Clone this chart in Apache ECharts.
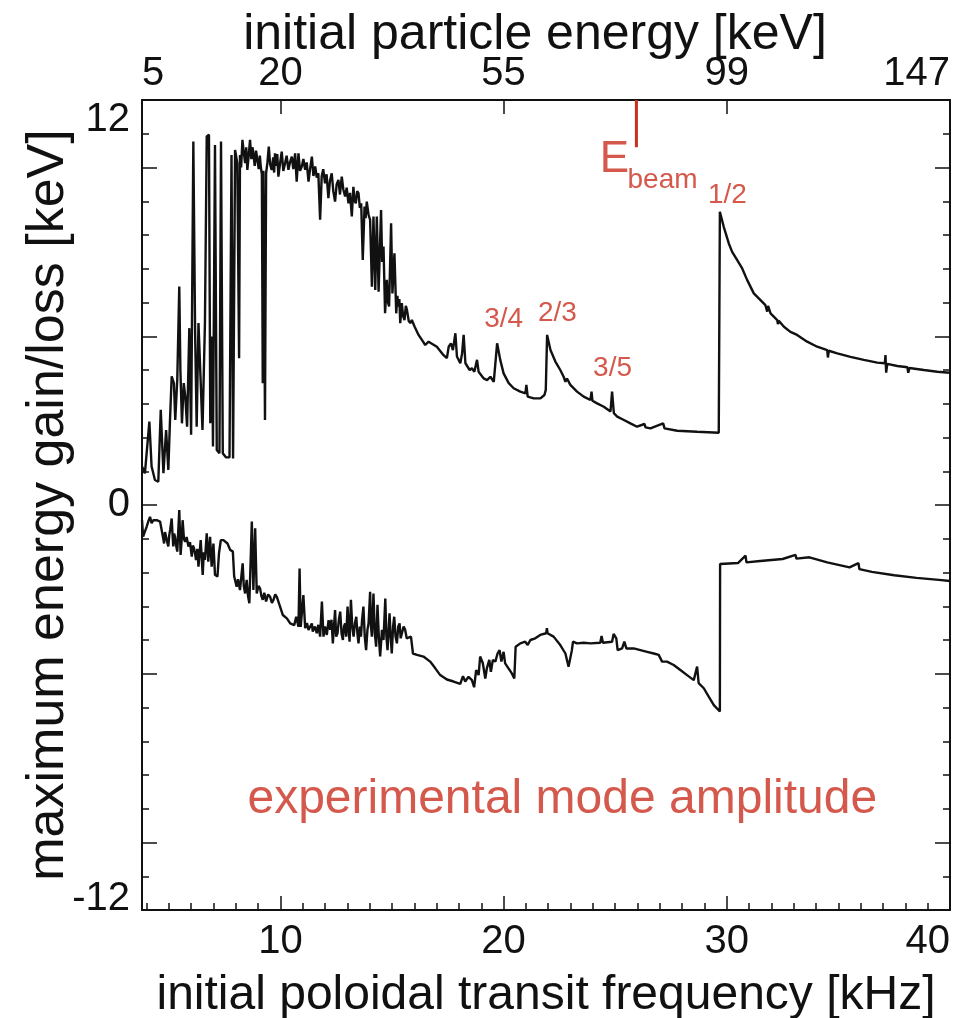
<!DOCTYPE html>
<html>
<head>
<meta charset="utf-8">
<title>maximum energy gain/loss</title>
<script src="https://cdn.jsdelivr.net/npm/echarts@6/dist/echarts.min.js"></script>
<style>
  html, body { margin: 0; padding: 0; background: #fff; }
  #chart { width: 968px; height: 1018px; }
</style>
</head>
<body>
<div id="chart"></div>
<script>
// upper curve: maximum energy gain, [frequency kHz, keV]
const gainCurve = [
  [3.80, 1.14], [3.93, 0.94], [4.13, 2.47], [4.23, 1.14], [4.38, 0.74], [4.53, 0.69], [4.64, 2.82], [4.76, 0.94], [4.88, 2.22], [4.98, 1.04],
  [5.06, 2.62], [5.13, 3.81], [5.23, 3.61], [5.29, 2.52], [5.38, 3.71], [5.47, 6.47], [5.52, 4.00], [5.59, 2.42], [5.67, 3.61], [5.74, 3.21],
  [5.82, 2.32], [5.92, 5.24], [6.00, 2.08], [6.10, 10.77], [6.18, 5.09], [6.25, 2.32], [6.33, 5.39], [6.42, 3.81], [6.51, 2.22], [6.62, 5.39],
  [6.70, 10.92], [6.80, 10.97], [6.86, 2.42], [6.94, 4.99], [6.98, 1.73], [7.07, 10.67], [7.15, 1.63], [7.27, 1.53], [7.34, 10.77], [7.42, 1.53],
  [7.57, 1.41], [7.72, 1.41], [7.81, 10.37], [7.88, 1.38], [7.97, 10.52], [8.07, 10.13], [8.15, 4.35], [8.19, 10.37], [8.24, 10.00], [8.30, 10.82],
  [8.36, 10.45], [8.42, 10.13], [8.47, 10.60], [8.52, 9.93], [8.58, 10.35], [8.64, 10.82], [8.70, 10.25], [8.75, 10.60], [8.79, 10.42], [8.85, 10.05],
  [8.91, 10.50], [8.97, 10.22], [9.03, 9.95], [9.08, 10.35], [9.12, 10.03], [9.17, 9.80], [9.21, 3.61], [9.24, 9.90], [9.27, 9.93], [9.31, 2.52],
  [9.36, 9.83], [9.42, 10.15], [9.48, 10.62], [9.54, 10.10], [9.61, 9.93], [9.68, 10.30], [9.72, 9.85], [9.76, 10.42], [9.82, 10.05], [9.86, 10.40],
  [9.91, 9.73], [9.98, 10.10], [10.06, 10.47], [10.13, 9.90], [10.21, 10.13], [10.28, 10.35], [10.36, 9.93], [10.43, 10.15], [10.51, 10.32], [10.58, 9.95],
  [10.66, 10.42], [10.73, 9.58], [10.81, 10.42], [10.88, 9.90], [10.96, 10.03], [11.03, 10.25], [11.11, 9.93], [11.18, 10.15], [11.26, 9.58], [11.33, 9.95],
  [11.41, 10.32], [11.48, 9.75], [11.56, 10.03], [11.63, 9.70], [11.70, 9.83], [11.78, 8.45], [11.85, 9.73], [11.92, 9.95], [12.00, 9.53], [12.07, 9.80],
  [12.15, 9.09], [12.22, 9.60], [12.30, 9.83], [12.37, 9.30], [12.45, 8.99], [12.52, 9.50], [12.60, 9.63], [12.67, 9.20], [12.75, 9.73], [12.82, 9.35],
  [12.90, 9.14], [12.97, 9.40], [13.05, 8.94], [13.12, 9.25], [13.20, 8.55], [13.27, 9.43], [13.33, 9.00], [13.38, 8.94], [13.44, 9.30], [13.50, 9.24],
  [13.56, 8.80], [13.62, 8.94], [13.69, 7.26], [13.77, 8.84], [13.82, 8.50], [13.87, 8.99], [13.95, 8.60], [14.02, 8.45], [14.10, 6.47], [14.17, 8.55],
  [14.25, 6.37], [14.32, 8.55], [14.40, 6.32], [14.51, 8.74], [14.56, 7.20], [14.62, 7.66], [14.69, 5.68], [14.77, 6.67], [14.82, 6.00], [14.87, 5.88],
  [14.96, 8.35], [15.02, 6.27], [15.06, 6.80], [15.11, 7.46], [15.19, 5.68], [15.24, 6.20], [15.29, 5.88], [15.33, 6.10], [15.37, 5.39], [15.44, 5.98],
  [15.50, 5.60], [15.56, 5.48], [15.62, 5.90], [15.67, 5.78], [15.75, 5.45], [15.82, 5.39], [15.89, 5.48], [16.01, 5.29], [16.19, 5.04], [16.34, 4.89],
  [16.49, 4.74], [16.64, 4.84], [16.72, 4.89], [17.01, 4.69], [17.31, 4.44], [17.46, 4.35], [17.54, 4.69], [17.64, 4.79], [17.73, 4.59], [17.84, 5.09],
  [17.91, 4.40], [18.06, 4.20], [18.14, 4.49], [18.21, 5.04], [18.29, 4.20], [18.36, 4.25], [18.48, 4.00], [18.58, 4.05], [18.69, 3.95], [18.81, 4.30],
  [18.88, 3.95], [18.96, 3.90], [19.11, 3.75], [19.26, 3.70], [19.41, 3.80], [19.56, 3.65], [19.63, 3.70], [19.71, 4.79], [19.85, 4.30], [20.00, 3.90],
  [20.23, 3.61], [20.45, 3.46], [20.75, 3.36], [20.98, 3.31], [21.02, 3.56], [21.08, 3.21], [21.35, 3.16], [21.65, 3.16], [21.83, 3.26], [21.89, 3.41],
  [21.95, 5.04], [22.10, 4.59], [22.32, 4.25], [22.54, 4.00], [22.69, 3.80], [22.77, 3.65], [22.84, 3.75], [22.99, 3.56], [23.29, 3.36], [23.59, 3.21],
  [23.89, 3.11], [23.94, 3.36], [23.98, 3.09], [24.19, 3.01], [24.49, 2.91], [24.79, 2.77], [24.86, 3.36], [24.94, 2.72], [25.09, 2.62], [25.39, 2.52],
  [25.68, 2.42], [25.98, 2.32], [26.31, 2.40], [26.36, 2.30], [26.58, 2.27], [27.15, 2.42], [27.21, 2.27], [27.78, 2.20], [28.67, 2.17], [29.64, 2.14],
  [29.69, 8.69], [29.86, 8.25], [30.09, 7.75], [30.24, 7.50], [30.46, 7.26], [30.69, 7.01], [30.91, 6.67], [31.21, 6.27], [31.51, 6.07], [31.73, 5.92],
  [31.81, 5.73], [31.85, 5.90], [31.96, 5.68], [32.26, 5.48], [32.29, 5.36], [32.33, 5.46], [32.56, 5.28], [32.85, 5.13], [33.15, 5.04], [33.60, 4.84],
  [34.05, 4.69], [34.50, 4.59], [34.53, 4.37], [34.57, 4.57], [34.95, 4.49], [35.54, 4.39], [36.14, 4.30], [36.74, 4.22], [37.08, 4.20], [37.11, 4.44],
  [37.14, 3.92], [37.19, 4.18], [37.64, 4.12], [38.09, 4.08], [38.13, 3.92], [38.18, 4.06], [38.83, 4.00], [39.43, 3.95], [40.00, 3.92]
];

// lower curve: maximum energy loss, [frequency kHz, keV]
const lossCurve = [
  [3.80, -0.45], [3.85, -0.94], [3.93, -0.99], [4.01, -0.64], [4.08, -0.49], [4.16, -0.35], [4.23, -0.54], [4.31, -0.45], [4.46, -0.45], [4.61, -0.49],
  [4.68, -0.74], [4.74, -0.95], [4.79, -1.14], [4.83, -0.80], [4.88, -0.94], [4.93, -1.10], [4.98, -1.23], [5.02, -0.90], [5.06, -0.74], [5.13, -0.40],
  [5.17, -0.90], [5.20, -1.23], [5.24, -0.85], [5.28, -0.94], [5.33, -1.20], [5.38, -1.38], [5.47, -0.15], [5.53, -1.48], [5.58, -1.00], [5.62, -0.45],
  [5.68, -1.00], [5.73, -1.09], [5.80, -0.95], [5.88, -1.23], [5.95, -1.10], [6.03, -1.53], [6.08, -1.20], [6.13, -1.28], [6.18, -1.45], [6.22, -1.63],
  [6.28, -1.30], [6.33, -1.83], [6.43, -1.04], [6.52, -2.07], [6.57, -1.40], [6.62, -1.63], [6.70, -0.84], [6.77, -1.68], [6.85, -0.94], [6.92, -1.83],
  [7.00, -1.14], [7.07, -2.07], [7.18, -2.12], [7.25, -1.43], [7.33, -1.04], [7.45, -1.04], [7.63, -1.14], [7.75, -1.33], [7.87, -1.38], [7.93, -2.12],
  [8.04, -2.42], [8.10, -2.20], [8.19, -2.52], [8.31, -1.73], [8.36, -2.40], [8.42, -2.62], [8.49, -2.22], [8.55, -2.70], [8.61, -2.91], [8.72, -0.49],
  [8.79, -2.52], [8.87, -0.69], [8.94, -2.62], [9.02, -2.40], [9.09, -2.47], [9.15, -2.70], [9.21, -2.81], [9.28, -2.60], [9.36, -2.86], [9.45, -2.65],
  [9.54, -2.72], [9.62, -2.90], [9.69, -2.81], [9.77, -2.65], [9.84, -2.72], [9.96, -2.96], [10.11, -3.26], [10.29, -3.36], [10.44, -3.51], [10.62, -3.56],
  [10.71, -3.31], [10.81, -3.61], [10.86, -1.88], [10.91, -3.61], [11.03, -2.67], [11.11, -3.65], [11.19, -3.50], [11.26, -3.70], [11.41, -3.51], [11.45, -3.75],
  [11.55, -3.60], [11.63, -3.80], [11.70, -3.55], [11.78, -3.90], [11.86, -2.86], [11.93, -3.90], [12.00, -3.60], [12.08, -3.85], [12.16, -3.41], [12.23, -3.70],
  [12.29, -3.40], [12.35, -4.10], [12.45, -3.11], [12.50, -3.90], [12.56, -3.80], [12.62, -3.40], [12.68, -3.16], [12.74, -3.80], [12.80, -4.00], [12.85, -3.60],
  [12.90, -3.51], [12.95, -3.90], [13.01, -3.01], [13.06, -3.70], [13.10, -4.05], [13.16, -2.81], [13.22, -3.60], [13.28, -3.90], [13.34, -3.50], [13.40, -3.31],
  [13.45, -3.80], [13.50, -4.10], [13.56, -3.60], [13.61, -3.90], [13.66, -3.40], [13.72, -3.01], [13.78, -3.90], [13.84, -4.30], [13.90, -3.70], [13.95, -3.51],
  [14.02, -2.57], [14.06, -3.60], [14.10, -3.90], [14.17, -2.62], [14.23, -3.80], [14.29, -4.20], [14.35, -2.96], [14.41, -3.90], [14.47, -4.49], [14.55, -3.70],
  [14.62, -4.00], [14.70, -2.77], [14.75, -3.90], [14.80, -4.30], [14.89, -3.21], [14.94, -3.90], [14.99, -4.40], [15.05, -3.60], [15.10, -3.31], [15.16, -3.90],
  [15.22, -4.10], [15.28, -3.60], [15.34, -3.51], [15.39, -3.95], [15.44, -3.90], [15.52, -3.60], [15.59, -3.70], [15.66, -3.95], [15.74, -3.90], [15.85, -3.90],
  [15.94, -4.40], [16.12, -4.44], [16.41, -4.49], [16.71, -4.64], [16.94, -4.84], [17.16, -5.04], [17.46, -5.17], [17.76, -5.23], [18.06, -5.30], [18.18, -5.07],
  [18.28, -5.23], [18.43, -5.09], [18.58, -5.19], [18.68, -5.40], [18.77, -4.89], [18.88, -5.04], [18.95, -4.49], [19.07, -4.69], [19.18, -5.14], [19.25, -4.84],
  [19.36, -4.59], [19.43, -4.94], [19.52, -4.59], [19.63, -4.64], [19.73, -4.40], [19.82, -4.30], [19.90, -4.64], [20.00, -4.35], [20.07, -4.69], [20.22, -4.84],
  [20.37, -4.99], [20.48, -5.14], [20.54, -4.20], [20.75, -4.10], [20.97, -4.05], [21.08, -4.15], [21.20, -4.00], [21.42, -3.95], [21.64, -3.85], [21.91, -3.80],
  [21.94, -3.65], [21.97, -3.80], [22.24, -3.90], [22.54, -4.15], [22.77, -4.40], [22.91, -4.79], [23.06, -4.30], [23.11, -4.05], [23.29, -4.10], [23.59, -4.08],
  [23.89, -4.10], [24.33, -4.08], [24.39, -3.88], [24.45, -4.08], [24.86, -4.05], [24.93, -3.82], [25.05, -3.95], [25.11, -4.30], [25.31, -4.25], [25.41, -4.05],
  [25.50, -4.25], [25.83, -4.25], [26.13, -4.30], [26.43, -4.35], [26.73, -4.40], [26.95, -4.44], [27.10, -4.64], [27.32, -4.64], [27.62, -4.74], [27.92, -4.89],
  [28.22, -5.04], [28.52, -5.19], [28.67, -4.79], [28.74, -5.28], [28.97, -5.43], [29.19, -5.68], [29.42, -5.93], [29.69, -6.12], [29.70, -1.75], [30.50, -1.72],
  [30.84, -1.50], [30.88, -1.70], [31.50, -1.66], [32.50, -1.60], [33.08, -1.48], [33.12, -1.59], [33.70, -1.55], [34.50, -1.70], [35.50, -1.85], [35.90, -1.72],
  [35.94, -1.90], [36.50, -1.98], [37.50, -2.08], [38.50, -2.16], [39.50, -2.22], [40.00, -2.25]
];

// axis ticks and labels
const freqMajorTicks = [10, 20, 30, 40];
const freqMinorTicks = [4, 5, 6, 7, 8, 9, 11, 12, 13, 14, 15, 16, 17, 18, 19, 21, 22, 23, 24, 25, 26, 27, 28, 29, 31, 32, 33, 34, 35, 36, 37, 38, 39];
const energyTickFreq = [3.8, 10, 20, 30, 40];
const energyTickLabels = ['5', '20', '55', '99', '147'];
const keVMajorTicks = [-10, -5, 0, 5, 10];
const keVMinorTicks = [-11, -9, -8, -7, -6, -4, -3, -2, -1, 1, 2, 3, 4, 6, 7, 8, 9, 11];
const keVLabelsUpper = [0, 12];
const keVLabelsLower = [-12];

// annotations
const beamFreq = 25.95;
const beamMarkTop = 12;
const beamMarkBottom = 10.6;
const resonanceText = ['3/4', '2/3', '3/5', '1/2'];
const resonanceFreq = [20.0, 22.41, 24.88, 30.03];
const resonanceKeV = [5.51, 5.69, 4.06, 9.19];

const RED = '#c9301f';
const INK = '#111';
const FONT = '"Liberation Sans", Arial, Helvetica, sans-serif';

const chart = echarts.init(document.getElementById('chart'));

// bare value axis, only the parts switched on in extra are drawn
const tickAxis = (extra) => Object.assign({
  type: 'value',
  splitLine: { show: false },
  axisLine: { show: false, onZero: false },
  axisLabel: { show: false },
  axisTick: { show: false }
}, extra);

const frameLine = { show: true, onZero: false, lineStyle: { color: INK, width: 2 } };

chart.setOption({
  animation: false,
  textStyle: { fontFamily: FONT },
  grid: { left: 142, right: 18, top: 100, bottom: 108, outerBoundsMode: 'none', containLabel: false },
  xAxis: [
    tickAxis({
      position: 'bottom', min: 3.8, max: 40,
      axisLine: frameLine,
      axisTick: { show: true, inside: true, length: 14, customValues: freqMajorTicks, lineStyle: { color: INK, width: 1.5 } },
      axisLabel: { show: true, customValues: freqMajorTicks, fontSize: 40, color: INK, margin: 12, fontFamily: FONT, alignMaxLabel: 'right' },
      name: 'initial poloidal transit frequency [kHz]',
      nameLocation: 'middle', nameGap: 62,
      nameTextStyle: { fontSize: 48, color: INK, fontFamily: FONT }
    }),
    tickAxis({
      position: 'bottom', min: 3.8, max: 40,
      axisTick: { show: true, inside: true, length: 7, customValues: freqMinorTicks, lineStyle: { color: INK, width: 1.5 } }
    }),
    tickAxis({
      position: 'top', min: 3.8, max: 40,
      axisLine: frameLine,
      axisTick: { show: true, inside: true, length: 14, customValues: [10, 20, 30], lineStyle: { color: INK, width: 1.5 } },
      axisLabel: {
        show: true, customValues: energyTickFreq, fontSize: 40, color: INK, margin: 6, fontFamily: FONT,
        alignMinLabel: 'left', alignMaxLabel: 'right',
        formatter: (v) => energyTickLabels[energyTickFreq.indexOf(v)] || ''
      },
      name: 'initial particle energy [keV]',
      nameLocation: 'middle', nameGap: 40, nameMoveOverlap: false,
      nameTextStyle: { fontSize: 50, color: INK, fontFamily: FONT, padding: [0, 22, 0, 0] }
    })
  ],
  yAxis: [
    tickAxis({
      position: 'left', min: -12, max: 12,
      axisLine: frameLine,
      axisTick: { show: true, inside: true, length: 15, customValues: keVMajorTicks, lineStyle: { color: INK, width: 1.5 } },
      axisLabel: {
        show: true, customValues: keVLabelsUpper, fontSize: 40, color: INK, margin: 12, fontFamily: FONT,
        verticalAlignMaxLabel: 'top'
      },
      name: 'maximum energy gain/loss [keV]',
      nameLocation: 'middle', nameGap: 62,
      nameTextStyle: { fontSize: 52, color: INK, fontFamily: FONT }
    }),
    tickAxis({
      position: 'left', min: -12, max: 12,
      axisTick: { show: true, inside: true, length: 7, customValues: keVMinorTicks, lineStyle: { color: INK, width: 1.5 } },
      axisLabel: {
        show: true, customValues: keVLabelsLower, fontSize: 40, color: INK, margin: 12, fontFamily: FONT,
        verticalAlign: 'bottom', lineHeight: 22
      }
    }),
    tickAxis({
      position: 'right', min: -12, max: 12,
      axisLine: frameLine,
      axisTick: { show: true, inside: true, length: 15, customValues: keVMajorTicks, lineStyle: { color: INK, width: 1.5 } }
    }),
    tickAxis({
      position: 'right', min: -12, max: 12,
      axisTick: { show: true, inside: true, length: 7, customValues: keVMinorTicks, lineStyle: { color: INK, width: 1.5 } }
    })
  ],
  series: [
    {
      name: 'gain', type: 'line', xAxisIndex: 0, yAxisIndex: 0,
      data: gainCurve,
      symbol: 'none', lineStyle: { color: INK, width: 2.4 }
    },
    {
      name: 'loss', type: 'line', xAxisIndex: 0, yAxisIndex: 0,
      data: lossCurve,
      symbol: 'none', lineStyle: { color: INK, width: 2.4 }
    },
    {
      name: 'beam', type: 'line', xAxisIndex: 0, yAxisIndex: 0,
      data: [[beamFreq, beamMarkTop], [beamFreq, beamMarkBottom]],
      symbol: 'none', lineStyle: { color: RED, width: 3 }
    },
    {
      name: 'labels', type: 'scatter', xAxisIndex: 0, yAxisIndex: 0,
      symbolSize: 1, itemStyle: { color: 'rgba(0,0,0,0)' },
      label: { show: true, position: 'inside', color: RED, fontFamily: FONT, fontSize: 28 },
      data: resonanceText.map((t, i) => ({
        value: [resonanceFreq[i], resonanceKeV[i]],
        label: { formatter: t }
      })).concat([
        { value: [24.97, 10.22], label: { formatter: 'E', fontSize: 44 } },
        { value: [27.12, 9.63], label: { formatter: 'beam', fontSize: 28 } },
        { value: [22.63, -8.74], label: { formatter: 'experimental mode amplitude', fontSize: 48 } }
      ])
    }
  ]
});
</script>
</body>
</html>
